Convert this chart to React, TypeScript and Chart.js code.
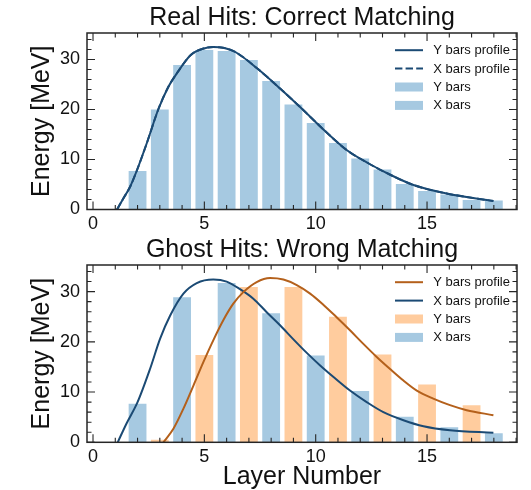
import React, { useEffect, useRef } from "react";
import { Chart, registerables } from "chart.js";

Chart.register(...registerables);

// ---------------- data ----------------
const xLabel = "Layer Number";
const yLabel = "Energy [MeV]";
const xMajorTicks = [0, 5, 10, 15];
const yMajorTicks = [0, 10, 20, 30];

// Top panel: Real Hits
const topTitle = "Real Hits: Correct Matching";
const topYBarLayers = [3, 5, 7, 9, 11, 13, 15, 17];
const topYBarEnergy = [20.0, 31.9, 29.9, 21.0, 13.3, 8.0, 3.7, 1.9];
const topXBarLayers = [2, 4, 6, 8, 10, 12, 14, 16, 18];
const topXBarEnergy = [7.7, 28.9, 31.7, 25.7, 17.3, 10.2, 5.1, 3.0, 1.8];
const topProfileLayers = [1.08, 1.4, 1.66, 1.96, 2.41, 2.93, 3.38, 3.76, 4.39, 4.9, 5.4, 5.9, 6.39, 7.38, 8.4, 9.37, 10.37, 11.39, 12.38, 13.37, 14.39, 15.88, 17.98];
const topProfileEnergy = [0, 2.5, 4.5, 7.7, 13.2, 20.0, 24.5, 27.2, 30.9, 32.1, 32.5, 32.3, 31.5, 28.2, 24.2, 20.2, 15.9, 11.9, 9.2, 6.9, 4.9, 3.2, 1.7];

// Bottom panel: Ghost Hits
const bottomTitle = "Ghost Hits: Wrong Matching";
const bottomYBarLayers = [3, 5, 7, 9, 11, 13, 15, 17];
const bottomYBarEnergy = [0.5, 17.4, 30.9, 30.9, 25.0, 17.5, 11.5, 7.4];
const bottomXBarLayers = [2, 4, 6, 8, 10, 12, 14, 16, 18];
const bottomXBarEnergy = [7.7, 28.9, 31.7, 25.7, 17.3, 10.2, 5.1, 3.0, 1.8];
const bottomYProfileLayers = [3.16, 3.61, 4.06, 4.51, 4.96, 5.4, 5.85, 6.3, 6.75, 7.35, 7.95, 8.55, 9.15, 9.75, 10.34, 10.94, 11.54, 12.14, 12.74, 13.34, 13.94, 14.54, 15.28, 16.03, 16.78, 17.98];
const bottomYProfileEnergy = [0, 2.7, 6.7, 11.3, 16.0, 20.3, 24.3, 27.6, 29.9, 31.9, 32.7, 32.4, 31.3, 29.6, 27.4, 24.9, 22.3, 19.6, 17.0, 14.6, 12.3, 10.3, 8.7, 7.4, 6.4, 5.4];
const bottomXProfileLayers = [1.11, 1.5, 2.0, 2.56, 3.01, 3.46, 4.06, 4.66, 5.4, 6.0, 6.6, 7.2, 7.8, 8.4, 9.0, 9.6, 10.2, 10.8, 11.54, 12.29, 13.04, 13.94, 14.84, 16.03, 17.98];
const bottomXProfileEnergy = [0, 3.7, 8.0, 14.6, 20.6, 25.2, 29.6, 31.7, 32.4, 32.0, 30.5, 28.6, 25.9, 23.3, 20.5, 17.8, 15.3, 13.0, 10.3, 8.0, 6.0, 4.4, 3.2, 2.4, 1.9];

// ---------------- style ----------------
const FONT = "'Liberation Sans', Arial, Helvetica, sans-serif";
const TEXT = "#111111";
const AXIS_COLOR = "#262626";
const BAR_BLUE = "rgb(166, 201, 225)";
const BAR_ORANGE = "rgb(255, 204, 158)";
const LINE_BLUE = "#1b4a74";
const LINE_ORANGE = "#b4601b";

const X_MIN = -0.27;
const X_MAX = 19.04;
const Y_MIN = 0;
const Y_MAX = 35.3;
const X_MINOR_STEP = 1;
const X_MAJOR_STEP = 5;
const Y_MINOR_STEP = 2;
const Y_MAJOR_STEP = 10;
const MAJOR_LEN = 8;
const MINOR_LEN = 4.5;

const W = 531;
const TOP_H = 232;
const BOTTOM_H = 258;

const pts = (xs: number[], ys: number[]) => xs.map((x, i) => ({ x, y: ys[i] }));

const panelDecor = {
  id: "panelDecor",
  afterDraw(chart: any) {
    const { ctx, chartArea: a, scales } = chart;
    const xs = scales.x;
    const ys = scales.y;
    ctx.save();
    // ticks (inward, all four sides)
    ctx.strokeStyle = AXIS_COLOR;
    ctx.lineWidth = 1.1;
    ctx.beginPath();
    for (let v = Math.ceil(xs.min); v <= xs.max + 1e-9; v += X_MINOR_STEP) {
      const len = Math.abs(v % X_MAJOR_STEP) < 1e-9 ? MAJOR_LEN : MINOR_LEN;
      const px = xs.getPixelForValue(v);
      ctx.moveTo(px, a.bottom);
      ctx.lineTo(px, a.bottom - len);
      ctx.moveTo(px, a.top);
      ctx.lineTo(px, a.top + len);
    }
    for (let v = Math.ceil(ys.min); v <= ys.max + 1e-9; v += Y_MINOR_STEP) {
      const len = Math.abs(v % Y_MAJOR_STEP) < 1e-9 ? MAJOR_LEN : MINOR_LEN;
      const py = ys.getPixelForValue(v);
      ctx.moveTo(a.left, py);
      ctx.lineTo(a.left + len, py);
      ctx.moveTo(a.right, py);
      ctx.lineTo(a.right - len, py);
    }
    ctx.stroke();
    // frame
    ctx.lineWidth = 1.5;
    ctx.strokeRect(a.left, a.top, a.right - a.left, a.bottom - a.top);

    // legend inside upper right
    const ds = chart.data.datasets;
    const handleX = a.right - 122;
    const handleW = 28;
    const textX = a.right - 83.7;
    ctx.font = `13px ${FONT}`;
    ctx.textBaseline = "middle";
    ctx.textAlign = "left";
    ds.forEach((d: any, i: number) => {
      const ry = a.top + 17.2 + i * 18.4;
      if (d.type === "line") {
        ctx.strokeStyle = d.borderColor;
        ctx.lineWidth = d.borderWidth;
        ctx.setLineDash(d.borderDash || []);
        ctx.beginPath();
        ctx.moveTo(handleX, ry);
        ctx.lineTo(handleX + handleW, ry);
        ctx.stroke();
        ctx.setLineDash([]);
      } else {
        ctx.fillStyle = d.backgroundColor;
        ctx.fillRect(handleX, ry - 4.5, handleW, 9);
      }
      ctx.fillStyle = TEXT;
      ctx.fillText(d.label, textX, ry + 0.5);
    });
    ctx.restore();
  },
};

function lineDs(label: string, xs: number[], ys: number[], color: string, dash?: number[]) {
  return {
    type: "line",
    label,
    data: pts(xs, ys),
    borderColor: color,
    borderWidth: 2,
    borderDash: dash || [],
    pointRadius: 0,
    fill: false,
    cubicInterpolationMode: "monotone",
    order: 0,
  };
}

function barDs(label: string, xs: number[], ys: number[], color: string) {
  return {
    type: "bar",
    label,
    data: pts(xs, ys),
    backgroundColor: color,
    borderWidth: 0,
    grouped: false,
    barPercentage: 0.8,
    categoryPercentage: 1,
    order: 1,
  };
}

function makeConfig(title: string, datasets: any[], showXTitle: boolean, xAxisHeight: number) {
  return {
    type: "bar",
    data: { datasets },
    plugins: [panelDecor],
    options: {
      animation: false,
      responsive: false,
      maintainAspectRatio: false,
      devicePixelRatio: 1,
      layout: { padding: { left: 0, right: 14, top: 0, bottom: 0 } },
      plugins: {
        legend: { display: false },
        tooltip: { enabled: false },
        title: {
          display: true,
          fullSize: false,
          text: title,
          color: TEXT,
          font: { family: FONT, size: 25, weight: "normal", lineHeight: 1.2 },
          padding: { top: 3, bottom: 0 },
        },
      },
      scales: {
        x: {
          type: "linear",
          min: X_MIN,
          max: X_MAX,
          offset: false,
          grid: { display: false, drawTicks: false },
          border: { display: false },
          afterBuildTicks: (s: any) => {
            s.ticks = xMajorTicks.map((v) => ({ value: v }));
          },
          ticks: {
            padding: 3.5,
            color: TEXT,
            maxRotation: 0,
            autoSkip: false,
            font: { family: FONT, size: 18, lineHeight: 1.2 },
          },
          title: {
            display: showXTitle,
            text: xLabel,
            color: TEXT,
            font: { family: FONT, size: 25, lineHeight: 1.0 },
            padding: { top: 0, bottom: 0 },
          },
          afterFit: (s: any) => {
            s.height = xAxisHeight;
          },
        },
        y: {
          type: "linear",
          min: Y_MIN,
          max: Y_MAX,
          grid: { display: false, drawTicks: false },
          border: { display: false },
          afterBuildTicks: (s: any) => {
            s.ticks = yMajorTicks.map((v) => ({ value: v }));
          },
          ticks: {
            padding: 7,
            color: TEXT,
            font: { family: FONT, size: 18, lineHeight: 1.2 },
          },
          title: {
            display: true,
            text: yLabel,
            color: TEXT,
            font: { family: FONT, size: 25, lineHeight: 1.2 },
            padding: { top: 26.7, bottom: 0 },
          },
          afterFit: (s: any) => {
            s.width = 87;
          },
        },
      },
    },
  };
}

function Panel({ make, top, height }: { make: () => any; top: number; height: number }) {
  const ref = useRef<HTMLCanvasElement | null>(null);
  useEffect(() => {
    const chart = new Chart(ref.current as HTMLCanvasElement, make());
    return () => chart.destroy();
  }, []);
  return (
    <canvas
      ref={ref}
      width={W}
      height={height}
      style={{ position: "absolute", left: 0, top, width: W, height, display: "block" }}
    />
  );
}

const makeTop = () =>
  makeConfig(
    topTitle,
    [
      lineDs("Y bars profile", topProfileLayers, topProfileEnergy, LINE_BLUE),
      lineDs("X bars profile", topProfileLayers, topProfileEnergy, LINE_BLUE, [7.4, 3.2]),
      barDs("Y bars", topYBarLayers, topYBarEnergy, BAR_BLUE),
      barDs("X bars", topXBarLayers, topXBarEnergy, BAR_BLUE),
    ],
    false,
    TOP_H - 33 - 176.5
  );

const makeBottom = () =>
  makeConfig(
    bottomTitle,
    [
      lineDs("Y bars profile", bottomYProfileLayers, bottomYProfileEnergy, LINE_ORANGE),
      lineDs("X bars profile", bottomXProfileLayers, bottomXProfileEnergy, LINE_BLUE),
      barDs("Y bars", bottomYBarLayers, bottomYBarEnergy, BAR_ORANGE),
      barDs("X bars", bottomXBarLayers, bottomXBarEnergy, BAR_BLUE),
    ],
    true,
    BOTTOM_H - 33 - 177.3
  );

export default function App() {
  return (
    <div
      style={{
        position: "absolute",
        left: 0,
        top: 0,
        width: W,
        height: TOP_H + BOTTOM_H,
        overflow: "hidden",
        background: "#ffffff",
      }}
    >
      <Panel make={makeTop} top={0} height={TOP_H} />
      <Panel make={makeBottom} top={TOP_H} height={BOTTOM_H} />
    </div>
  );
}
